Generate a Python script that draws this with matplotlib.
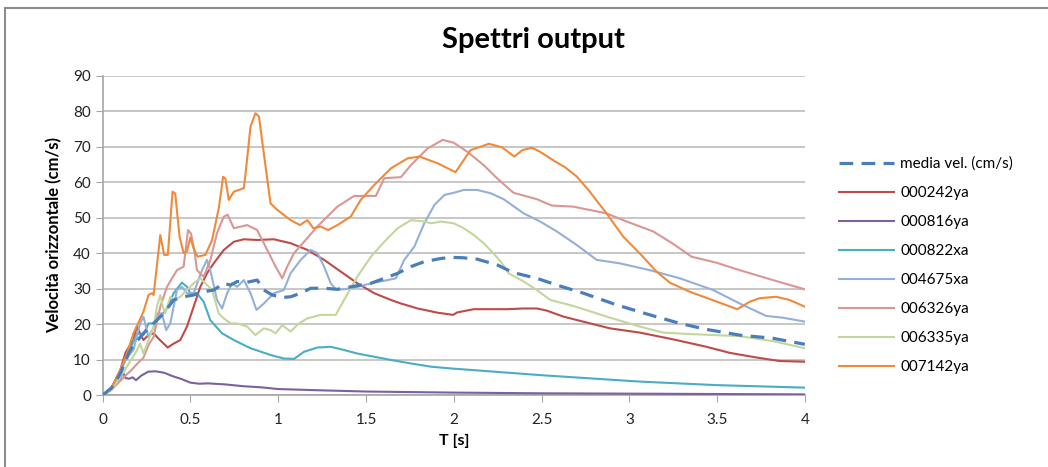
import matplotlib
matplotlib.use('Agg')
import matplotlib.pyplot as plt
from matplotlib.patches import Rectangle

# periods [s] and velocities [cm/s]
media_T = [0, 0.05, 0.1, 0.15, 0.175, 0.232, 0.29, 0.347, 0.404, 0.461, 0.518, 0.575, 0.632, 0.69, 0.728,
           0.766, 0.823, 0.88, 0.918, 0.966, 1.023, 1.07, 1.128, 1.185, 1.261, 1.337, 1.413, 1.528, 1.604,
           1.68, 1.756, 1.832, 1.928, 1.985, 2.05, 2.133, 2.246, 2.34, 2.473, 2.587, 2.739, 2.928, 3.117,
           3.288, 3.44, 3.629, 3.818, 4.0]
media_V = [0, 2, 6, 12, 14, 17.4, 20.2, 23, 26.8, 27.7, 28.2, 29.1, 29.6, 31.5, 31, 32, 31.8, 32.4, 29.6,
           28.2, 27.5, 27.7, 28.7, 30.1, 30.1, 29.8, 30.5, 31.5, 32.9, 34.3, 36.2, 37.6, 38.5, 38.8, 38.7,
           38.3, 36.7, 34.5, 32.9, 31, 28.7, 25.4, 22.6, 20.2, 18.5, 16.9, 16, 14.3]

s242_T = [0, 0.05, 0.1, 0.13, 0.175, 0.194, 0.213, 0.232, 0.261, 0.29, 0.318, 0.337, 0.37, 0.404, 0.442,
          0.48, 0.518, 0.556, 0.594, 0.632, 0.69, 0.747, 0.804, 0.88, 0.975, 1.07, 1.166, 1.261, 1.356,
          1.451, 1.547, 1.642, 1.699, 1.794, 1.909, 1.996, 2.02, 2.114, 2.303, 2.398, 2.473, 2.53, 2.625,
          2.777, 2.89, 3.06, 3.25, 3.44, 3.572, 3.723, 3.856, 4.0]
s242_V = [0, 2, 7, 12, 15.5, 19.3, 17.4, 15.5, 16.9, 17.4, 15.9, 15, 13.4, 14.5, 15.5, 19.3, 24.9, 30.5,
          34.3, 37.1, 40.9, 43.2, 43.9, 43.7, 43.9, 42.8, 40.9, 38.1, 34.8, 31.5, 28.7, 26.8, 25.8, 24.4,
          23.2, 22.6, 23.3, 24.2, 24.2, 24.4, 24.4, 23.8, 22.1, 20.2, 18.8, 17.6, 15.7, 13.6, 11.9, 10.6,
          9.6, 9.4]

s816_T = [0, 0.05, 0.1, 0.115, 0.13, 0.15, 0.17, 0.19, 0.22, 0.26, 0.3, 0.35, 0.4, 0.45, 0.5, 0.55, 0.6,
          0.7, 0.8, 0.9, 1.0, 1.2, 1.5, 2.0, 2.5, 3.0, 3.5, 4.0]
s816_V = [0, 1.5, 4.5, 6.4, 4.8, 4.6, 5.0, 4.2, 5.5, 6.6, 6.7, 6.3, 5.3, 4.5, 3.5, 3.2, 3.3, 3.0, 2.5, 2.2,
          1.7, 1.4, 1.0, 0.7, 0.5, 0.4, 0.3, 0.2]

s822_T = [0, 0.05, 0.1, 0.14, 0.194, 0.232, 0.261, 0.29, 0.328, 0.366, 0.404, 0.451, 0.48, 0.499, 0.537,
          0.575, 0.613, 0.68, 0.747, 0.842, 0.956, 1.032, 1.09, 1.147, 1.223, 1.299, 1.375, 1.451, 1.547,
          1.642, 1.756, 1.87, 1.985, 2.5, 3.06, 3.5, 4.0]
s822_V = [0, 2, 6.5, 11, 17.4, 16.9, 20.2, 20.2, 22.1, 24.4, 28.7, 31.7, 30.5, 28.7, 28.7, 26.3, 21.1,
          17.4, 15.5, 13.2, 11.3, 10.3, 10.2, 12.2, 13.4, 13.6, 12.7, 11.7, 10.8, 9.9, 8.9, 8, 7.5, 5.6,
          3.8, 2.8, 2.1]

s4675_T = [0, 0.05, 0.1, 0.13, 0.175, 0.213, 0.232, 0.261, 0.29, 0.309, 0.337, 0.362, 0.385, 0.423, 0.451,
           0.48, 0.518, 0.566, 0.594, 0.613, 0.651, 0.68, 0.709, 0.737, 0.766, 0.804, 0.842, 0.876, 0.918,
           0.975, 1.032, 1.07, 1.128, 1.185, 1.223, 1.261, 1.299, 1.328, 1.375, 1.451, 1.547, 1.623, 1.67,
           1.718, 1.775, 1.832, 1.89, 1.947, 2.0, 2.057, 2.133, 2.208, 2.284, 2.398, 2.492, 2.587, 2.70,
           2.814, 2.947, 3.117, 3.288, 3.477, 3.629, 3.78, 3.875, 4.0]
s4675_V = [0, 2, 7, 10, 12.7, 20.2, 22.1, 16.4, 19, 23, 23, 18.3, 20.2, 29.6, 30.5, 28.7, 28.7, 35.2, 38.1,
           35.2, 26.8, 24.4, 28.7, 31.5, 30.5, 32.4, 28.7, 24, 25.8, 28.7, 29.6, 34.3, 38.1, 40.9, 40, 36.2,
           31.5, 29.8, 29.8, 30.5, 31.7, 32.4, 32.9, 38.1, 41.8, 48.4, 53.6, 56.4, 57, 57.8, 57.8, 56.9,
           55.2, 51.2, 48.9, 46.1, 42.3, 38.1, 37.1, 35.2, 32.9, 29.6, 25.8, 22.3, 21.8, 20.7]

s6326_T = [0, 0.06, 0.1, 0.13, 0.163, 0.2, 0.232, 0.26, 0.29, 0.328, 0.366, 0.423, 0.461, 0.486, 0.503,
           0.522, 0.537, 0.575, 0.613, 0.651, 0.69, 0.712, 0.747, 0.823, 0.88, 0.937, 0.985, 1.023, 1.051,
           1.09, 1.147, 1.223, 1.337, 1.432, 1.556, 1.604, 1.699, 1.756, 1.851, 1.937, 2.0, 2.076, 2.17,
           2.246, 2.34, 2.473, 2.559, 2.68, 2.87, 2.985, 3.136, 3.25, 3.354, 3.496, 3.629, 3.818, 4.0]
s6326_V = [0, 2, 4, 5.5, 7, 9, 10.5, 14, 16.4, 24.9, 30.5, 35.2, 36.2, 46.5, 45.5, 40.8, 35.2, 33.3, 38,
           45.6, 50.3, 50.8, 47, 47.9, 46.5, 40.9, 36.2, 32.9, 36.2, 40, 43.2, 47.5, 53.1, 56.1, 56.1, 61.1,
           61.4, 64.8, 69.5, 71.9, 71.1, 68.6, 64.8, 61.1, 57, 55.2, 53.4, 53.1, 51.2, 48.9, 46.1, 42.6, 39,
           37.3, 35.2, 32.4, 29.8]

s6335_T = [0, 0.05, 0.1, 0.15, 0.194, 0.213, 0.232, 0.261, 0.29, 0.309, 0.328, 0.343, 0.356, 0.385, 0.404,
           0.442, 0.48, 0.518, 0.556, 0.585, 0.623, 0.661, 0.69, 0.728, 0.766, 0.823, 0.87, 0.918, 0.956,
           0.985, 1.023, 1.07, 1.118, 1.166, 1.242, 1.328, 1.375, 1.451, 1.528, 1.604, 1.68, 1.756, 1.832,
           1.87, 1.928, 2.0, 2.057, 2.114, 2.17, 2.227, 2.275, 2.313, 2.398, 2.473, 2.55, 2.682, 2.871,
           3.06, 3.193, 3.345, 3.629, 3.818, 4.0]
s6335_V = [0, 1.5, 5, 9, 12.5, 14.5, 11.7, 15.5, 19.3, 24.9, 28.2, 24.9, 23, 27.7, 26.8, 27.7, 29.6, 31.5,
           32.9, 31.5, 29.6, 23, 21.6, 20.2, 20.2, 19.3, 16.9, 18.8, 18.3, 17.4, 19.7, 17.9, 20.2, 21.6,
           22.6, 22.6, 26.8, 33.4, 39, 43.2, 47, 49.3, 48.9, 48.4, 48.9, 48.4, 47, 45.1, 42.8, 39.9, 37.1,
           34.3, 32, 29.6, 26.8, 25.1, 22.1, 19.3, 17.6, 17.2, 16.6, 15.2, 13.2]

s7142_T = [0, 0.05, 0.1, 0.14, 0.175, 0.2, 0.232, 0.261, 0.28, 0.29, 0.328, 0.35, 0.371, 0.398, 0.413,
           0.438, 0.461, 0.48, 0.499, 0.52, 0.541, 0.585, 0.623, 0.661, 0.686, 0.699, 0.718, 0.747, 0.804,
           0.813, 0.842, 0.87, 0.89, 0.918, 0.956, 0.994, 1.07, 1.124, 1.166, 1.2, 1.242, 1.284, 1.337,
           1.413, 1.47, 1.547, 1.642, 1.737, 1.804, 1.909, 2.01, 2.095, 2.2, 2.275, 2.345, 2.39, 2.445,
           2.49, 2.578, 2.634, 2.70, 2.767, 2.87, 2.966, 3.06, 3.155, 3.23, 3.345, 3.5, 3.615, 3.686,
           3.742, 3.837, 3.913, 4.0]
s7142_V = [0, 2, 7, 12, 17.4, 20, 23.5, 28.2, 28.7, 28.2, 45.1, 39.5, 39.5, 57.3, 56.8, 44.6, 40, 40.5,
           44.4, 41, 39, 39.5, 43.7, 52.6, 61.5, 61, 55, 57.3, 58.3, 62, 75.6, 79.4, 78.5, 68, 54, 52.2,
           49.3, 47.9, 49.3, 47, 47.5, 46.5, 47.9, 50.3, 55, 59.2, 63.9, 66.7, 67.2, 65.3, 62.8, 69, 70.8,
           69.8, 67.2, 69, 69.7, 68.6, 65.8, 64.2, 61.6, 57.8, 51.2, 44.6, 39.9, 34.8, 31.7, 29.1, 26.3,
           24.2, 26.3, 27.3, 27.7, 26.8, 24.9]

labels = ['media vel. (cm/s)', '000242ya', '000816ya', '000822xa', '004675xa', '006326ya', '006335ya', '007142ya']
colors = ['#4A7EBB', '#BE4B48', '#7D60A0', '#4BACC6', '#93B0D8', '#DA9694', '#C3D69B', '#F08A3A']

plt.rcParams['font.family'] = ['Lato', 'DejaVu Sans']

fig = plt.figure(figsize=(10.48, 4.67), dpi=100)
ax = fig.add_axes([0.098, 0.154, 0.670, 0.684])

# outer chart frame (partly cut off at right and bottom)
fig.patches.append(Rectangle((5 / 1048, -0.05), 1.1, (467 - 8) / 467 + 0.05, transform=fig.transFigure,
                             fill=False, edgecolor='#8C8C8C', linewidth=1.5))

series = [(s242_T, s242_V), (s816_T, s816_V), (s822_T, s822_V), (s4675_T, s4675_V),
          (s6326_T, s6326_V), (s6335_T, s6335_V), (s7142_T, s7142_V)]

ax.plot(media_T, media_V, color=colors[0], lw=2.3, dashes=(4.3, 2.6), label=labels[0], zorder=4)
for i, (t, v) in enumerate(series):
    ax.plot(t, v, color=colors[i + 1], lw=1.5, label=labels[i + 1], zorder=3)

ax.set_xlim(0, 4)
ax.set_ylim(0, 90)
ax.set_xticks([0, 0.5, 1, 1.5, 2, 2.5, 3, 3.5, 4])
ax.set_xticklabels(['0', '0.5', '1', '1.5', '2', '2.5', '3', '3.5', '4'])
ax.set_yticks(range(0, 91, 10))
ax.yaxis.grid(True, color='#BDBDBD', linewidth=1.2)
ax.set_axisbelow(True)
for s in ['top', 'right']:
    ax.spines[s].set_visible(False)
for s in ['left', 'bottom']:
    ax.spines[s].set_color('#A6A6A6')
    ax.spines[s].set_linewidth(1.2)
ax.tick_params(axis='both', direction='out', length=5, color='#A6A6A6', labelsize=11, labelcolor='#222222')
ax.tick_params(axis='x', pad=8)

ax.set_xlabel('T [s]', fontsize=11.5, fontweight='bold', labelpad=5)
ax.set_ylabel('Velocità orizzontale (cm/s)', fontsize=12, fontweight='bold', labelpad=8)
fig.text(0.509, 0.915, 'Spettri output', ha='center', va='center', fontsize=21, fontweight='bold')

ax.legend(loc='upper left', bbox_to_anchor=(1.04, 0.765), frameon=False, fontsize=11,
          handlelength=3.6, handletextpad=0.4, labelspacing=0.98, borderaxespad=0)

fig.savefig('out.png', dpi=100)
